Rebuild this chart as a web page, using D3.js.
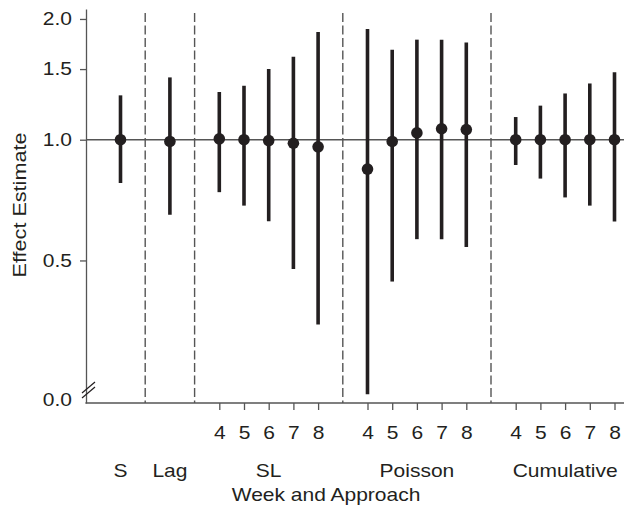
<!DOCTYPE html>
<html>
<head>
<meta charset="utf-8">
<script src="https://cdn.jsdelivr.net/npm/d3@7"></script>
<style>
  body { margin: 0; background: #fff; }
  svg { display: block; font-family: "Liberation Sans", Arial, Helvetica, sans-serif; }
</style>
</head>
<body>
<svg width="624" height="517"></svg>
<script>
// one row per estimate, grouped by approach
var groups = ["S", "Lag", "SL", "Poisson", "Cumulative"];
var rowGroup = ["S", "Lag",
  "SL", "SL", "SL", "SL", "SL",
  "Poisson", "Poisson", "Poisson", "Poisson", "Poisson",
  "Cumulative", "Cumulative", "Cumulative", "Cumulative", "Cumulative"];
var rowWeek = ["", "", "4", "5", "6", "7", "8", "4", "5", "6", "7", "8", "4", "5", "6", "7", "8"];
var estimate = [1.00, 0.99, 1.005, 1.00, 0.995, 0.98, 0.96, 0.845, 0.99, 1.04, 1.065, 1.06, 1.00, 1.00, 1.00, 1.00, 1.00];
var lower = [0.78, 0.65, 0.74, 0.685, 0.626, 0.476, 0.346, 0.232, 0.443, 0.565, 0.565, 0.54, 0.865, 0.80, 0.718, 0.685, 0.625];
var upper = [1.29, 1.43, 1.315, 1.363, 1.50, 1.61, 1.856, 1.888, 1.676, 1.776, 1.776, 1.748, 1.139, 1.216, 1.304, 1.381, 1.472];
var yTicks = [0.5, 1.0, 1.5, 2.0];

var ink = "#231f20", axisCol = "#555", sx = 1.2;

var svg = d3.select("svg");
var plotLeft = 86, plotRight = 624, plotTop = 9, plotBottom = 403;

var rows = estimate.map(function(d, i) {
  return { key: rowGroup[i] + rowWeek[i], group: rowGroup[i], week: rowWeek[i], est: d, lo: lower[i], hi: upper[i] };
});

// slots: rows with one empty slot between groups
var slots = [];
groups.forEach(function(g, i) {
  if (i > 0) slots.push("sep" + i);
  rows.filter(function(r) { return r.group == g; }).forEach(function(r) { slots.push(r.key); });
});

var x = d3.scalePoint().domain(slots).range([120.5, 614.5]);
var y = d3.scaleLog().domain([0.2206, 2.1177]).range([plotBottom, plotTop]);

// reference line at 1
svg.append("line")
    .attr("x1", plotLeft).attr("x2", plotRight)
    .attr("y1", y(1)).attr("y2", y(1))
    .attr("stroke", axisCol).attr("stroke-width", 1.5);

// group separators
svg.append("g").selectAll("line")
    .data(slots.filter(function(s) { return s.indexOf("sep") == 0; }))
  .enter().append("line")
    .attr("x1", function(d) { return x(d); }).attr("x2", function(d) { return x(d); })
    .attr("y1", 13).attr("y2", plotBottom)
    .attr("stroke", axisCol).attr("stroke-width", 1.4)
    .attr("stroke-dasharray", "9,3.5");

// y axis
var yAxis = svg.append("g")
    .attr("transform", "translate(" + plotLeft + ",0)")
    .call(d3.axisLeft(y).tickValues(yTicks).tickFormat(d3.format(".1f")).tickSize(6).tickSizeOuter(0).tickPadding(8));
yAxis.selectAll("path, line").attr("stroke", axisCol).attr("stroke-width", 1.3);
yAxis.selectAll("text")
    .attr("fill", ink).style("font-size", "17.5px")
    .attr("x", -14 / sx).attr("transform", "scale(" + sx + ",1)");

// "0.0" at the broken bottom of the axis
svg.append("text")
    .attr("transform", "translate(72,406) scale(" + sx + ",1)")
    .attr("text-anchor", "end").attr("fill", ink).style("font-size", "17.5px")
    .text("0.0");
svg.append("g").selectAll("line")
    .data([0, 5])
  .enter().append("line")
    .attr("x1", 82).attr("y1", function(d) { return 393 + d; })
    .attr("x2", 95).attr("y2", function(d) { return 382 + d; })
    .attr("stroke", ink).attr("stroke-width", 1.2);

// x axis
svg.append("line")
    .attr("x1", plotLeft - 0.6).attr("x2", plotRight)
    .attr("y1", plotBottom).attr("y2", plotBottom)
    .attr("stroke", axisCol).attr("stroke-width", 1.3);
var weekRows = rows.filter(function(r) { return r.week != ""; });
var xAxis = svg.append("g")
    .attr("transform", "translate(0," + plotBottom + ")")
    .call(d3.axisBottom(x)
        .tickValues(weekRows.map(function(r) { return r.key; }))
        .tickFormat(function(k) { return rows.find(function(r) { return r.key == k; }).week; })
        .tickSize(7).tickPadding(17));
xAxis.select(".domain").remove();
xAxis.selectAll("line").attr("stroke", axisCol).attr("stroke-width", 1.3);
xAxis.selectAll("text")
    .attr("fill", ink).style("font-size", "17.5px")
    .attr("transform", "scale(" + sx + ",1)");

// group labels
svg.append("g").selectAll("text")
    .data(groups)
  .enter().append("text")
    .attr("transform", function(g) {
      var cx = d3.mean(rows.filter(function(r) { return r.group == g; }), function(r) { return x(r.key); });
      return "translate(" + cx + ",477) scale(" + sx + ",1)";
    })
    .attr("text-anchor", "middle").attr("fill", ink).style("font-size", "17.5px")
    .text(function(g) { return g; });

// axis titles
svg.append("text")
    .attr("transform", "translate(326,501) scale(" + sx + ",1)")
    .attr("text-anchor", "middle").attr("fill", ink).style("font-size", "17.5px")
    .text("Week and Approach");
svg.append("text")
    .attr("transform", "translate(26,205) rotate(-90) scale(" + sx + ",1)")
    .attr("text-anchor", "middle").attr("fill", ink).style("font-size", "18px")
    .text("Effect Estimate");

// intervals and estimates
var marks = svg.append("g");
marks.selectAll("line")
    .data(rows)
  .enter().append("line")
    .attr("x1", function(d) { return x(d.key); }).attr("x2", function(d) { return x(d.key); })
    .attr("y1", function(d) { return y(d.lo); }).attr("y2", function(d) { return y(d.hi); })
    .attr("stroke", ink).attr("stroke-width", 3.6);
marks.selectAll("circle")
    .data(rows)
  .enter().append("circle")
    .attr("cx", function(d) { return x(d.key); })
    .attr("cy", function(d) { return y(d.est); })
    .attr("r", 5.8)
    .attr("fill", ink);
</script>
</body>
</html>
